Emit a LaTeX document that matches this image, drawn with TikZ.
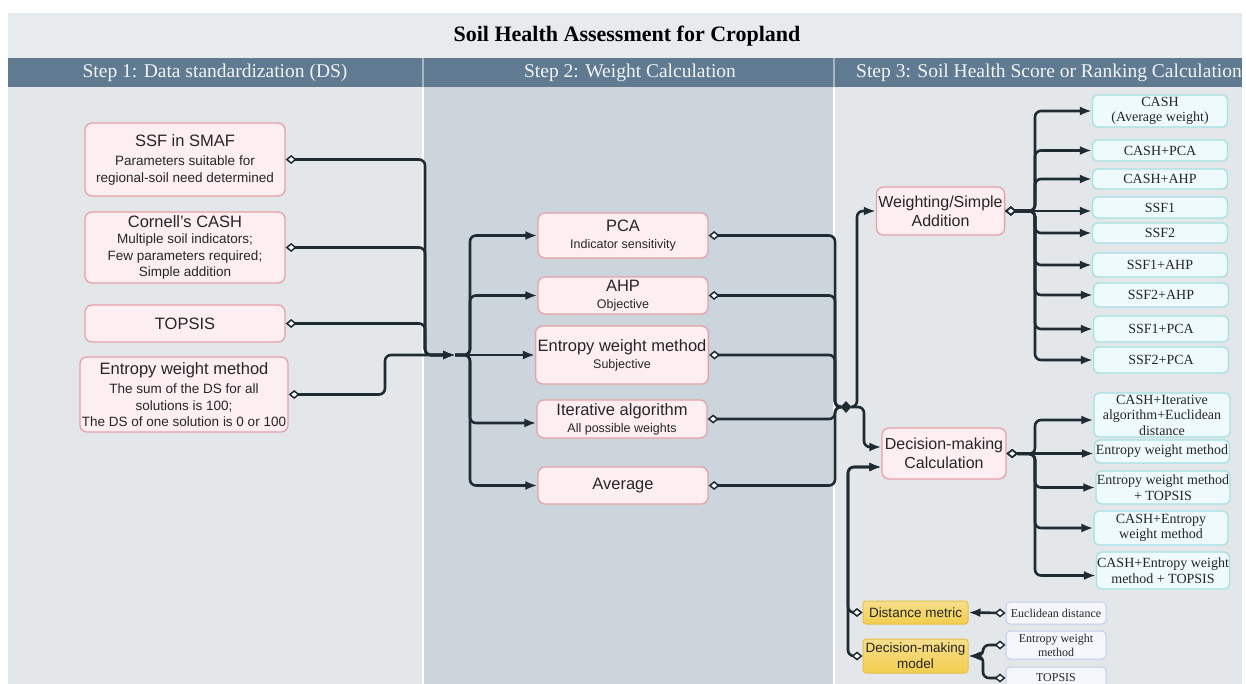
\documentclass[tikz,border=0pt]{standalone}
\usepackage{fontspec}
\setmainfont{Liberation Serif}
\setsansfont{Liberation Sans}
\usepackage[dvipsnames]{xcolor}
\usepackage{tikz}
\usetikzlibrary{positioning,arrows.meta,shapes.geometric}
\definecolor{ink}{HTML}{1F2B33}
\definecolor{hdr}{HTML}{5F7A91}
\definecolor{band}{HTML}{E8EBEE}
\definecolor{paneA}{HTML}{E3E7EA}
\definecolor{paneB}{HTML}{CDD5DC}
\definecolor{pkfill}{HTML}{FDEFF1}
\definecolor{pkline}{HTML}{E5A1A9}
\definecolor{tlfill}{HTML}{EEFAFB}
\definecolor{tlline}{HTML}{A4E1E2}
\definecolor{gdfill}{HTML}{F2CD4E}
\definecolor{gdline}{HTML}{E6C04A}
\definecolor{plfill}{HTML}{F4F6FC}
\definecolor{plline}{HTML}{C2CEEA}
\colorlet{txt}{black!85}
\colorlet{hdtxt}{white!92!hdr}
\newcommand{\hd}[1]{{\fontsize{16.5}{19}\selectfont #1}}

\begin{document}
\begin{tikzpicture}[x=1pt, y=-1pt,
		ln/.style = {draw=ink, line width=2.6pt, rounded corners=6pt},
		a/.style = {ln, {Diamond[fill=white, length=11pt, width=9pt, line width=1.5pt]}-{Latex[length=12pt, width=9pt]}},
		d/.style = {ln, {Diamond[fill=white, length=11pt, width=9pt, line width=1.5pt]}-},
		e/.style = {ln, -{Latex[length=12pt, width=9pt]}},
		pk/.style = {draw=pkline, fill=pkfill, line width=1.3pt, rounded corners=7pt, align=center, inner sep=2pt, text=txt, font=\sffamily\fontsize{13.5}{16.5}\selectfont},
		pks/.style = {pk, minimum width=170pt, font=\sffamily\fontsize{12.5}{15}\selectfont},
		pkb/.style = {pk, font=\sffamily\fontsize{16}{19}\selectfont},
		tl/.style = {draw=tlline, fill=tlfill, line width=1.3pt, rounded corners=5pt, align=center, inner sep=0.5pt, text=txt, minimum width=135pt, font=\fontsize{14}{15.5}\selectfont},
		gd/.style = {draw=gdline, top color=gdfill!65!white, bottom color=gdfill, line width=1pt, rounded corners=3pt, align=center, inner sep=0.5pt, text=txt, minimum width=105pt, font=\sffamily\fontsize{13.5}{16}\selectfont},
		pl/.style = {draw=plline, fill=plfill, line width=1pt, rounded corners=4pt, align=center, inner sep=0.5pt, text=txt, minimum width=100pt, font=\fontsize{12}{14}\selectfont},
		hd/.style = {text=hdtxt, font=\fontsize{19.5}{22}\selectfont}]
		\useasboundingbox (0,0) rectangle (1246,684);
		\clip (0,0) rectangle (1246,684);
		\fill[white] (0,0) rectangle (1246,684);
		\fill[band] (8,13) rectangle (1242,58);
		\fill[paneA] (8,87) rectangle (422,684);
		\fill[paneB] (424,87) rectangle (833,684);
		\fill[paneA] (835,87) rectangle (1242,684);
		\fill[hdr] (8,58) rectangle (1242,87);
		\draw[white!45!hdr, line width=1.2pt] (423,58) -- (423,87) (834,58) -- (834,87);
		\node[font=\bfseries\fontsize{22}{26}\selectfont] (title) at (627,36) {Soil Health Assessment for Cropland};
		\node[hd] (h1) at (215,73) {Step 1: Data standardization (DS)};
		\node[hd] (h2) at (630,73) {Step 2: Weight Calculation};
		\node[hd] (h3) at (1049,73) {Step 3: Soil Health Score or Ranking Calculation};

		\node[pk, minimum width=200pt, minimum height=73pt] (ssf) at (185,159.5) {\hd{SSF in SMAF}\\[3pt]Parameters suitable for\\regional-soil need determined};
		\node[pk, minimum width=200pt, minimum height=71pt] (cash) at (185,247.5) {\hd{Cornell’s CASH}\\Multiple soil indicators;\\Few parameters required;\\Simple addition};
		\node[pk, minimum width=200pt, minimum height=37pt] (tps) at (185,323.5) {\hd{TOPSIS}};
		\node[pk, minimum width=202pt, minimum height=75pt] (ew1) at (184,394.5) {\hd{Entropy weight method}\\[3pt]The sum of the DS for all\\solutions is 100;\\The DS of one solution is 0 or 100};

		\node[pks, minimum height=45pt] (pca) at (623,235.5) {\hd{PCA}\\[2pt]Indicator sensitivity};
		\node[pks, minimum height=37pt] (ahp) at (623,295.5) {\hd{AHP}\\[2pt]Objective};
		\node[pks, minimum height=58pt] (ew2) at (622,355) {\hd{Entropy weight method}\\[2pt]Subjective};
		\node[pks, minimum height=38pt] (itr) at (622,419) {\hd{Iterative algorithm}\\[2pt]All possible weights};
		\node[pks, minimum height=37pt] (avg) at (623,485.5) {\hd{Average}};

		\node[pkb, minimum width=125pt, minimum height=48pt] (wsa) at (940.5,211) {Weighting/Simple\\Addition};
		\node[pkb, minimum width=124pt, minimum height=51pt] (dmc) at (944,453.5) {Decision-making\\Calculation};

		\node[tl, minimum height=32pt] (c1) at (1160,111) {CASH\\(Average weight)};
		\node[tl, minimum height=21pt] (c2) at (1160,150.5) {CASH+PCA};
		\node[tl, minimum height=20pt] (c3) at (1160,179) {CASH+AHP};
		\node[tl, minimum height=21pt] (s1) at (1160,207.5) {SSF1};
		\node[tl, minimum height=20pt] (s2) at (1160,233) {SSF2};
		\node[tl, minimum height=24pt] (s3) at (1160,265) {SSF1+AHP};
		\node[tl, minimum height=24pt] (s4) at (1161,295) {SSF2+AHP};
		\node[tl, minimum height=26pt] (s5) at (1161,329) {SSF1+PCA};
		\node[tl, minimum height=26pt] (s6) at (1161,360) {SSF2+PCA};

		\node[tl, minimum width=136pt, minimum height=44pt] (d1) at (1162,415) {CASH+Iterative\\algorithm+Euclidean\\distance};
		\node[tl, minimum height=23pt] (d2) at (1162,451.5) {Entropy weight method};
		\node[tl, minimum width=134pt, minimum height=33pt] (d3) at (1163,487.5) {Entropy weight method\\+ TOPSIS};
		\node[tl, minimum width=134pt, minimum height=34pt] (d4) at (1161,528) {CASH+Entropy\\weight method};
		\node[tl, minimum width=132pt, minimum height=37pt] (d5) at (1163,570.5) {CASH+Entropy weight\\method + TOPSIS};

		\node[gd, minimum height=23pt] (dm) at (915.5,612.5) {Distance metric};
		\node[gd, minimum height=34pt] (dmm) at (915.5,656) {Decision-making\\model};
		\node[pl, minimum height=22pt] (eu) at (1056,613) {Euclidean distance};
		\node[pl, minimum height=28pt] (ew) at (1056,645) {Entropy weight\\method};
		\node[pl, minimum height=22pt] (tp) at (1056,678) {TOPSIS};

		\coordinate (e1) at (385,355);
		\coordinate (j1) at (425,355);
		\coordinate (a1) at (455,355);
		\coordinate (k) at (470,355);
		\coordinate (m2) at (835,407);
		\node[diamond, fill=ink, inner sep=0pt, minimum width=11pt, minimum height=12pt] (jd) at (846,407) {};
		\coordinate (u) at (857,407);
		\coordinate (v) at (864,407);
		\coordinate (w) at (1035,211);
		\coordinate (dp) at (1035,454);
		\coordinate (q) at (983,656);
		\coordinate (r) at (848,467);

		\draw[a] (ssf.east) -| (j1) -- (a1);
		\draw[a] (cash.east) -| (j1) -- (a1);
		\draw[a] (tps.east) -| (j1) -- (a1);
		\draw[a] (ew1.east) -| (e1) -- (a1);

		\draw[e] (a1) -- (k) |- (pca.west);
		\draw[e] (a1) -- (k) |- (ahp.west);
		\draw[e] (a1) -- (ew2.west);
		\draw[e] (a1) -- (k) |- ([yshift=-4pt]itr.west);
		\draw[e] (a1) -- (k) |- (avg.west);

		\draw[d] (pca.east) -| (m2) -- (jd);
		\draw[d] (ahp.east) -| (m2) -- (jd);
		\draw[d] (ew2.east) -| (m2) -- (jd);
		\draw[d] (itr.east) -| (m2) -- (jd);
		\draw[d] (avg.east) -| (m2) -- (jd);
		\draw[e] (jd) -- (u) |- (wsa.west);
		\draw[e] (jd) -- (v) |- ([yshift=6.5pt]dmc.west);

		\draw[a] (wsa.east) -- (w) |- (c1.west);
		\draw[a] (wsa.east) -- (w) |- (c2.west);
		\draw[a] (wsa.east) -- (w) |- (c3.west);
		\draw[a] (wsa.east) -- (s1.west |- wsa.east);
		\draw[a] (wsa.east) -- (w) |- (s2.west);
		\draw[a] (wsa.east) -- (w) |- (s3.west);
		\draw[a] (wsa.east) -- (w) |- (s4.west);
		\draw[a] (wsa.east) -- (w) |- (s5.west);
		\draw[a] (wsa.east) -- (w) |- (s6.west);

		\draw[a] (dmc.east) -- (dp) |- ([yshift=-5pt]d1.west);
		\draw[a] (dmc.east) -- (d2.west |- dmc.east);
		\draw[a] (dmc.east) -- (dp) |- (d3.west);
		\draw[a] (dmc.east) -- (dp) |- (d4.west);
		\draw[a] (dmc.east) -- (dp) |- ([yshift=-5pt]d5.west);

		\draw[a] (eu.west) -- (dm.east);
		\draw[a] (ew.west) -| (q) -- (dmm.east);
		\draw[a] (tp.west) -| (q) -- (dmm.east);
		\draw[a] (dm.west) -| (r) -- ([yshift=-13.5pt]dmc.west);
		\draw[a] (dmm.west) -| (r) -- ([yshift=-13.5pt]dmc.west);
	\end{tikzpicture}
\end{document}
